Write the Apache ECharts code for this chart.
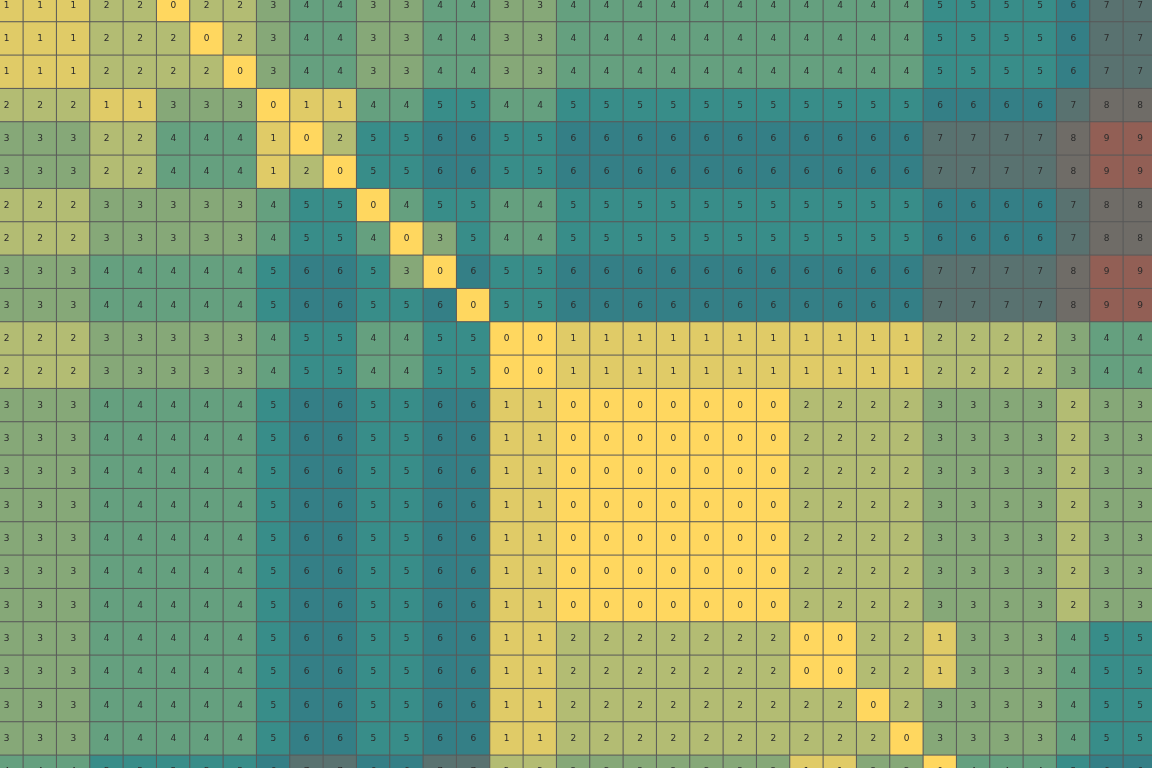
<!DOCTYPE html>
<html>
<head>
<meta charset="utf-8">
<script src="https://cdn.jsdelivr.net/npm/echarts@6/dist/echarts.min.js"></script>
<style>
html,body{margin:0;padding:0;background:#ffffff;}
#chart{width:1152px;height:768px;}
</style>
</head>
<body>
<div id="chart"></div>
<script>
// Visible part of the distance matrix (rows top→bottom, columns left→right)
const row00 = [1,1,1,2,2,0,2,2,3,4,4,3,3,4,4,3,3,4,4,4,4,4,4,4,4,4,4,4,5,5,5,5,6,7,7];
const row01 = [1,1,1,2,2,2,0,2,3,4,4,3,3,4,4,3,3,4,4,4,4,4,4,4,4,4,4,4,5,5,5,5,6,7,7];
const row02 = [1,1,1,2,2,2,2,0,3,4,4,3,3,4,4,3,3,4,4,4,4,4,4,4,4,4,4,4,5,5,5,5,6,7,7];
const row03 = [2,2,2,1,1,3,3,3,0,1,1,4,4,5,5,4,4,5,5,5,5,5,5,5,5,5,5,5,6,6,6,6,7,8,8];
const row04 = [3,3,3,2,2,4,4,4,1,0,2,5,5,6,6,5,5,6,6,6,6,6,6,6,6,6,6,6,7,7,7,7,8,9,9];
const row05 = [3,3,3,2,2,4,4,4,1,2,0,5,5,6,6,5,5,6,6,6,6,6,6,6,6,6,6,6,7,7,7,7,8,9,9];
const row06 = [2,2,2,3,3,3,3,3,4,5,5,0,4,5,5,4,4,5,5,5,5,5,5,5,5,5,5,5,6,6,6,6,7,8,8];
const row07 = [2,2,2,3,3,3,3,3,4,5,5,4,0,3,5,4,4,5,5,5,5,5,5,5,5,5,5,5,6,6,6,6,7,8,8];
const row08 = [3,3,3,4,4,4,4,4,5,6,6,5,3,0,6,5,5,6,6,6,6,6,6,6,6,6,6,6,7,7,7,7,8,9,9];
const row09 = [3,3,3,4,4,4,4,4,5,6,6,5,5,6,0,5,5,6,6,6,6,6,6,6,6,6,6,6,7,7,7,7,8,9,9];
const row10 = [2,2,2,3,3,3,3,3,4,5,5,4,4,5,5,0,0,1,1,1,1,1,1,1,1,1,1,1,2,2,2,2,3,4,4];
const row11 = [2,2,2,3,3,3,3,3,4,5,5,4,4,5,5,0,0,1,1,1,1,1,1,1,1,1,1,1,2,2,2,2,3,4,4];
const row12 = [3,3,3,4,4,4,4,4,5,6,6,5,5,6,6,1,1,0,0,0,0,0,0,0,2,2,2,2,3,3,3,3,2,3,3];
const row13 = [3,3,3,4,4,4,4,4,5,6,6,5,5,6,6,1,1,0,0,0,0,0,0,0,2,2,2,2,3,3,3,3,2,3,3];
const row14 = [3,3,3,4,4,4,4,4,5,6,6,5,5,6,6,1,1,0,0,0,0,0,0,0,2,2,2,2,3,3,3,3,2,3,3];
const row15 = [3,3,3,4,4,4,4,4,5,6,6,5,5,6,6,1,1,0,0,0,0,0,0,0,2,2,2,2,3,3,3,3,2,3,3];
const row16 = [3,3,3,4,4,4,4,4,5,6,6,5,5,6,6,1,1,0,0,0,0,0,0,0,2,2,2,2,3,3,3,3,2,3,3];
const row17 = [3,3,3,4,4,4,4,4,5,6,6,5,5,6,6,1,1,0,0,0,0,0,0,0,2,2,2,2,3,3,3,3,2,3,3];
const row18 = [3,3,3,4,4,4,4,4,5,6,6,5,5,6,6,1,1,0,0,0,0,0,0,0,2,2,2,2,3,3,3,3,2,3,3];
const row19 = [3,3,3,4,4,4,4,4,5,6,6,5,5,6,6,1,1,2,2,2,2,2,2,2,0,0,2,2,1,3,3,3,4,5,5];
const row20 = [3,3,3,4,4,4,4,4,5,6,6,5,5,6,6,1,1,2,2,2,2,2,2,2,0,0,2,2,1,3,3,3,4,5,5];
const row21 = [3,3,3,4,4,4,4,4,5,6,6,5,5,6,6,1,1,2,2,2,2,2,2,2,2,2,0,2,3,3,3,3,4,5,5];
const row22 = [3,3,3,4,4,4,4,4,5,6,6,5,5,6,6,1,1,2,2,2,2,2,2,2,2,2,2,0,3,3,3,3,4,5,5];
const row23 = [4,4,4,5,5,5,5,5,6,7,7,6,6,7,7,2,2,3,3,3,3,3,3,3,1,1,3,3,0,4,4,4,5,6,6];
const rows = [row00,row01,row02,row03,row04,row05,row06,row07,row08,row09,row10,row11,
              row12,row13,row14,row15,row16,row17,row18,row19,row20,row21,row22,row23];

const colLabels = row00.map((_, i) => 'C' + (i + 1));
const rowLabels = rows.map((_, i) => 'R' + (i + 1));
const levelColors = ['#FFD75F','#E0CB67','#B3BC73','#86A878','#65A07F','#388D89','#347F86','#597270','#6F6C67','#925F55'];

const data = [];
rows.forEach((r, y) => r.forEach((v, x) => data.push([x, y, v])));

const chart = echarts.init(document.getElementById('chart'), null, {renderer: 'canvas'});
const cell = 100 / 3;
chart.setOption({
  animation: false,
  backgroundColor: '#ffffff',
  grid: {
    left: -10,
    top: -11.333,
    width: cell * colLabels.length,
    height: cell * rowLabels.length,
    containLabel: false,
    outerBoundsMode: 'none'
  },
  xAxis: {
    type: 'category', data: colLabels, show: false,
    splitArea: {show: false}
  },
  yAxis: {
    type: 'category', data: rowLabels, inverse: true, show: false,
    splitArea: {show: false}
  },
  visualMap: {
    type: 'piecewise',
    show: false,
    dimension: 2,
    pieces: levelColors.map((c, i) => ({value: i, color: c}))
  },
  series: [{
    type: 'heatmap',
    data: data,
    itemStyle: {borderColor: '#595959', borderWidth: 1},
    label: {
      show: true,
      fontSize: 9,
      color: '#2b2b2b',
      fontFamily: 'DejaVu Sans, sans-serif'
    },
    emphasis: {disabled: true}
  }]
});
</script>
</body>
</html>
